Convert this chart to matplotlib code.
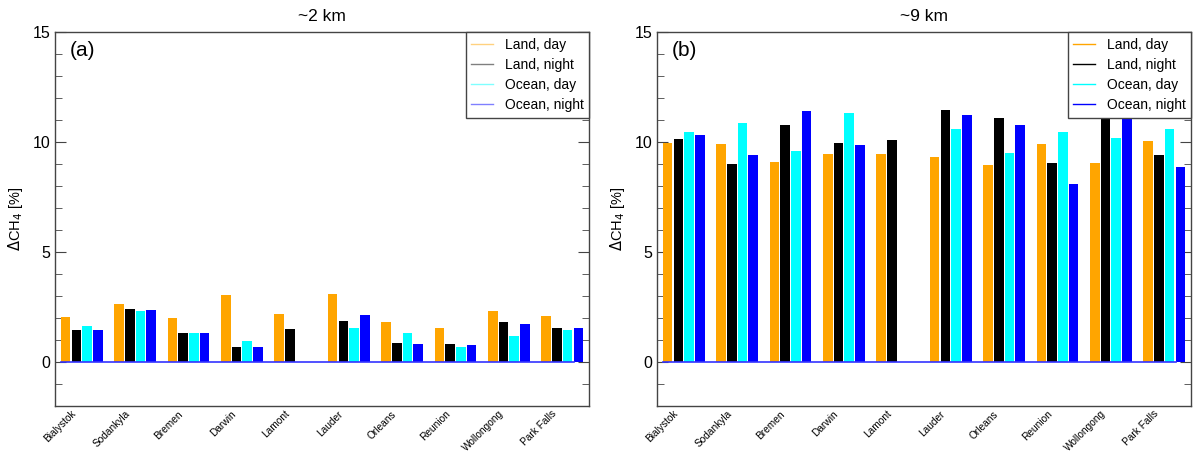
import matplotlib
matplotlib.use("Agg")
from matplotlib import pyplot as plt
from matplotlib.ticker import MultipleLocator
import numpy as np

plt.rcParams['font.family'] = ['Liberation Sans', 'DejaVu Sans']

stations = ["Bialystok", "Sodankyla", "Bremen", "Darwin", "Lamont",
            "Lauder", "Orleans", "Reunion", "Wollongong", "Park Falls"]
series = ["Land, day", "Land, night", "Ocean, day", "Ocean, night"]
colors = ["#FFA500", "#000000", "#00FFFF", "#0000FF"]

# ~2 km
land_day_2 = [2.04, 2.64, 2.00, 3.03, 2.16, 3.10, 1.81, 1.53, 2.31, 2.11]
land_night_2 = [1.45, 2.40, 1.33, 0.66, 1.50, 1.87, 0.85, 0.82, 1.81, 1.53]
ocean_day_2 = [1.65, 2.32, 1.30, 0.94, np.nan, 1.53, 1.33, 0.66, 1.18, 1.45]
ocean_night_2 = [1.45, 2.35, 1.33, 0.66, np.nan, 2.13, 0.82, 0.78, 1.72, 1.56]

# ~9 km
land_day_9 = [9.94, 9.91, 9.07, 9.47, 9.47, 9.34, 8.95, 9.91, 9.04, 10.03]
land_night_9 = [10.15, 9.01, 10.76, 9.94, 10.11, 11.46, 11.11, 9.04, 11.50, 9.39]
ocean_day_9 = [10.47, 10.87, 9.59, 11.31, np.nan, 10.58, 9.51, 10.47, 10.18, 10.58]
ocean_night_9 = [10.32, 9.39, 11.40, 9.88, np.nan, 11.23, 10.76, 8.11, 11.07, 8.87]

panels = [
    ("~2 km", "(a)", [land_day_2, land_night_2, ocean_day_2, ocean_night_2], 0.5),
    ("~9 km", "(b)", [land_day_9, land_night_9, ocean_day_9, ocean_night_9], 1.0),
]

fig = plt.figure(figsize=(11.93, 4.54), dpi=100)
lefts = [55 / 1193, 657 / 1193]
step = 0.2
width = 0.18
x = np.arange(len(stations))

for (title, tag, data, leg_alpha), left in zip(panels, lefts):
    ax = fig.add_axes([left, 48 / 454, 534 / 1193, 374 / 454])
    for k, (vals, col) in enumerate(zip(data, colors)):
        ax.bar(x + k * step, vals, width=width, color=col, zorder=2)
        ax.plot([], [], color=col, lw=1, alpha=leg_alpha, label=series[k])
    # zero line beneath the groups
    ax.plot([x[0] - width / 2, x[-1] + 3 * step - width / 2], [0, 0],
            color="#3333ff", lw=1.2, zorder=3)

    ax.set_xlim(-0.2, 9.8)
    ax.set_ylim(-2, 15)
    ax.yaxis.set_major_locator(MultipleLocator(5))
    ax.yaxis.set_minor_locator(MultipleLocator(1))
    ax.tick_params(axis="y", which="both", direction="in", left=True, right=True,
                   color="#444444", labelsize=11.5)
    ax.tick_params(axis="y", which="major", length=8)
    ax.tick_params(axis="y", which="minor", length=5)
    ax.set_xticks(x + 0.1)
    ax.set_xticklabels(stations, rotation=45, ha="right", rotation_mode="anchor",
                       fontsize=7.3)
    ax.tick_params(axis="x", length=0, pad=2)
    for s in ax.spines.values():
        s.set_color("#444444")
        s.set_linewidth(1)

    ax.set_ylabel("$\\Delta$CH$_4$ [%]", fontsize=10.5, labelpad=5)
    ax.set_title(title, fontsize=12.5, pad=8)
    ax.text(0.028, 0.975, tag, transform=ax.transAxes, fontsize=15, va="top")
    leg = ax.legend(loc="upper right", borderaxespad=0, fancybox=False,
                    framealpha=1, edgecolor="#444444", fontsize=10,
                    handlelength=1.6, borderpad=0.4, labelspacing=0.45)
    leg.get_frame().set_linewidth(1)
    leg.set_zorder(5)

fig.savefig("out.png", dpi=100)
